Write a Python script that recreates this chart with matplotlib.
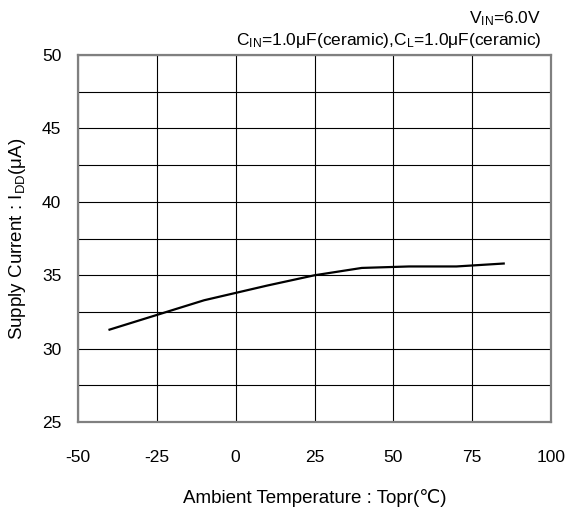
import matplotlib
matplotlib.use("Agg")
import matplotlib.pyplot as plt
import numpy as np

plt.rcParams['font.family'] = ['Liberation Sans', 'DejaVu Sans']
plt.rcParams['mathtext.fontset'] = 'custom'
plt.rcParams['mathtext.rm'] = 'Liberation Sans'
plt.rcParams['mathtext.it'] = 'Liberation Sans'
plt.rcParams['axes.unicode_minus'] = False

temperature = [-40, -25, -10, 0, 10, 25, 40, 55, 70, 85]
supply_current = [31.3, 32.3, 33.3, 33.8, 34.3, 35.0, 35.5, 35.6, 35.6, 35.8]
x_ticks = [-50, -25, 0, 25, 50, 75, 100]
y_ticks = [25, 30, 35, 40, 45, 50]

fig = plt.figure(figsize=(5.71, 5.13), dpi=100)
ax = fig.add_axes([0.1366, 0.177, 0.8284, 0.716])

ax.plot(temperature, supply_current, color='black', lw=1.6, zorder=3)

ax.set_xlim(-50, 100)
ax.set_ylim(25, 50)
ax.set_xticks(x_ticks)
ax.set_yticks(y_ticks)
ax.set_yticks(np.arange(25, 50.1, 2.5), minor=True)
ax.grid(True, which='both', axis='y', color='black', lw=0.8)
ax.grid(True, which='major', axis='x', color='black', lw=0.8)
ax.tick_params(which='both', length=0)
ax.tick_params(axis='x', pad=20, labelsize=12.5)
ax.tick_params(axis='y', pad=12, labelsize=12.5)
for s in ax.spines.values():
    s.set_color('#808080')
    s.set_linewidth(1.6)

ax.set_xlabel('Ambient Temperature : Topr(\u2103)', fontsize=13.5, labelpad=17)
ax.set_ylabel('Supply Current : I$_{\\mathrm{DD}}$(\u03bcA)', fontsize=13.5, labelpad=10)

fig.text(0.948, 0.964, 'V$_{\\mathrm{IN}}$=6.0V', ha='right', va='center', fontsize=12.5)
fig.text(0.948, 0.922, 'C$_{\\mathrm{IN}}$=1.0\u03bcF(ceramic),C$_{\\mathrm{L}}$=1.0\u03bcF(ceramic)',
         ha='right', va='center', fontsize=12.5)

fig.savefig('out.png', dpi=100)
